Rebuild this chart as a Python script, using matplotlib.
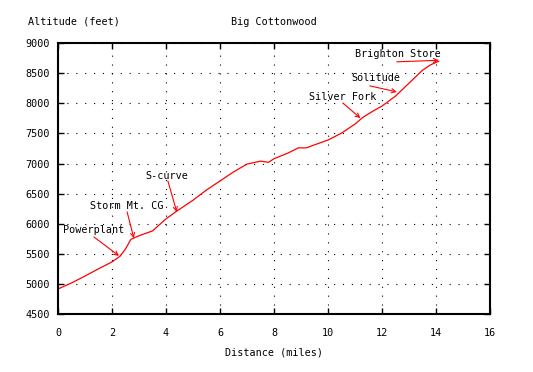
import matplotlib
matplotlib.use("Agg")
import matplotlib.pyplot as plt

# elevation profile
dist = [0.0, 0.5, 1.0, 1.5, 2.0, 2.3, 2.5, 2.7, 3.0, 3.5, 4.0, 4.4, 5.0, 5.5, 6.0,
        6.5, 7.0, 7.5, 7.8, 8.0, 8.5, 8.9, 9.2, 9.5, 10.0, 10.5, 11.0, 11.3, 11.7,
        12.0, 12.5, 13.0, 13.5, 13.8, 14.1]
alt = [4915, 5015, 5130, 5250, 5365, 5460, 5580, 5740, 5800, 5880, 6080, 6210, 6390,
       6560, 6710, 6860, 6990, 7040, 7020, 7080, 7170, 7260, 7260, 7310, 7390, 7505,
       7655, 7770, 7880, 7955, 8120, 8335, 8550, 8640, 8700]

labels = ["Powerplant", "Storm Mt. CG", "S-curve", "Silver Fork", "Solitude", "Brighton Store"]
label_pos = [(0.19, 5895), (1.2, 6295), (3.22, 6790), (9.3, 8105), (10.85, 8420), (11.0, 8820)]
arrow_from = [(1.33, 5780), (2.56, 6195), (4.07, 6710), (10.55, 8005), (11.55, 8290), (12.55, 8690)]
arrow_to = [(2.26, 5465), (2.81, 5760), (4.4, 6195), (11.2, 7755), (12.55, 8190), (14.1, 8715)]

plt.rcParams["font.family"] = "DejaVu Sans Mono"
plt.rcParams["font.size"] = 7.3

fig = plt.figure(figsize=(5.33, 3.72), dpi=100)
ax = fig.add_axes([0.1088, 0.156, 0.8105, 0.728])

ax.plot(dist, alt, color="red", lw=0.9)

for lab, p in zip(labels, label_pos):
    ax.text(p[0], p[1], lab, color="black", ha="left", va="center")
for a, b in zip(arrow_from, arrow_to):
    ax.annotate("", xy=b, xytext=a,
                arrowprops=dict(arrowstyle="->,head_length=0.4,head_width=0.2",
                                color="red", lw=0.8, shrinkA=0, shrinkB=0))

ax.set_xlim(0, 16)
ax.set_ylim(4500, 9000)
ax.set_xticks(range(0, 17, 2))
ax.set_yticks(range(4500, 9001, 500))
ax.tick_params(axis="x", direction="in", top=True, length=4, width=1, pad=10)
ax.tick_params(axis="y", direction="in", right=True, length=4, width=1, pad=6)
ax.grid(True, color="black", linestyle=(0, (1, 7)), lw=0.8)
for s in ax.spines.values():
    s.set_linewidth(1.5)

fig.text(28 / 533, 1 - 22 / 372, "Altitude (feet)", ha="left", va="center")
fig.text(274 / 533, 1 - 22 / 372, "Big Cottonwood", ha="center", va="center")
ax.set_xlabel("Distance (miles)", labelpad=7)

fig.savefig("out.png", dpi=100)
